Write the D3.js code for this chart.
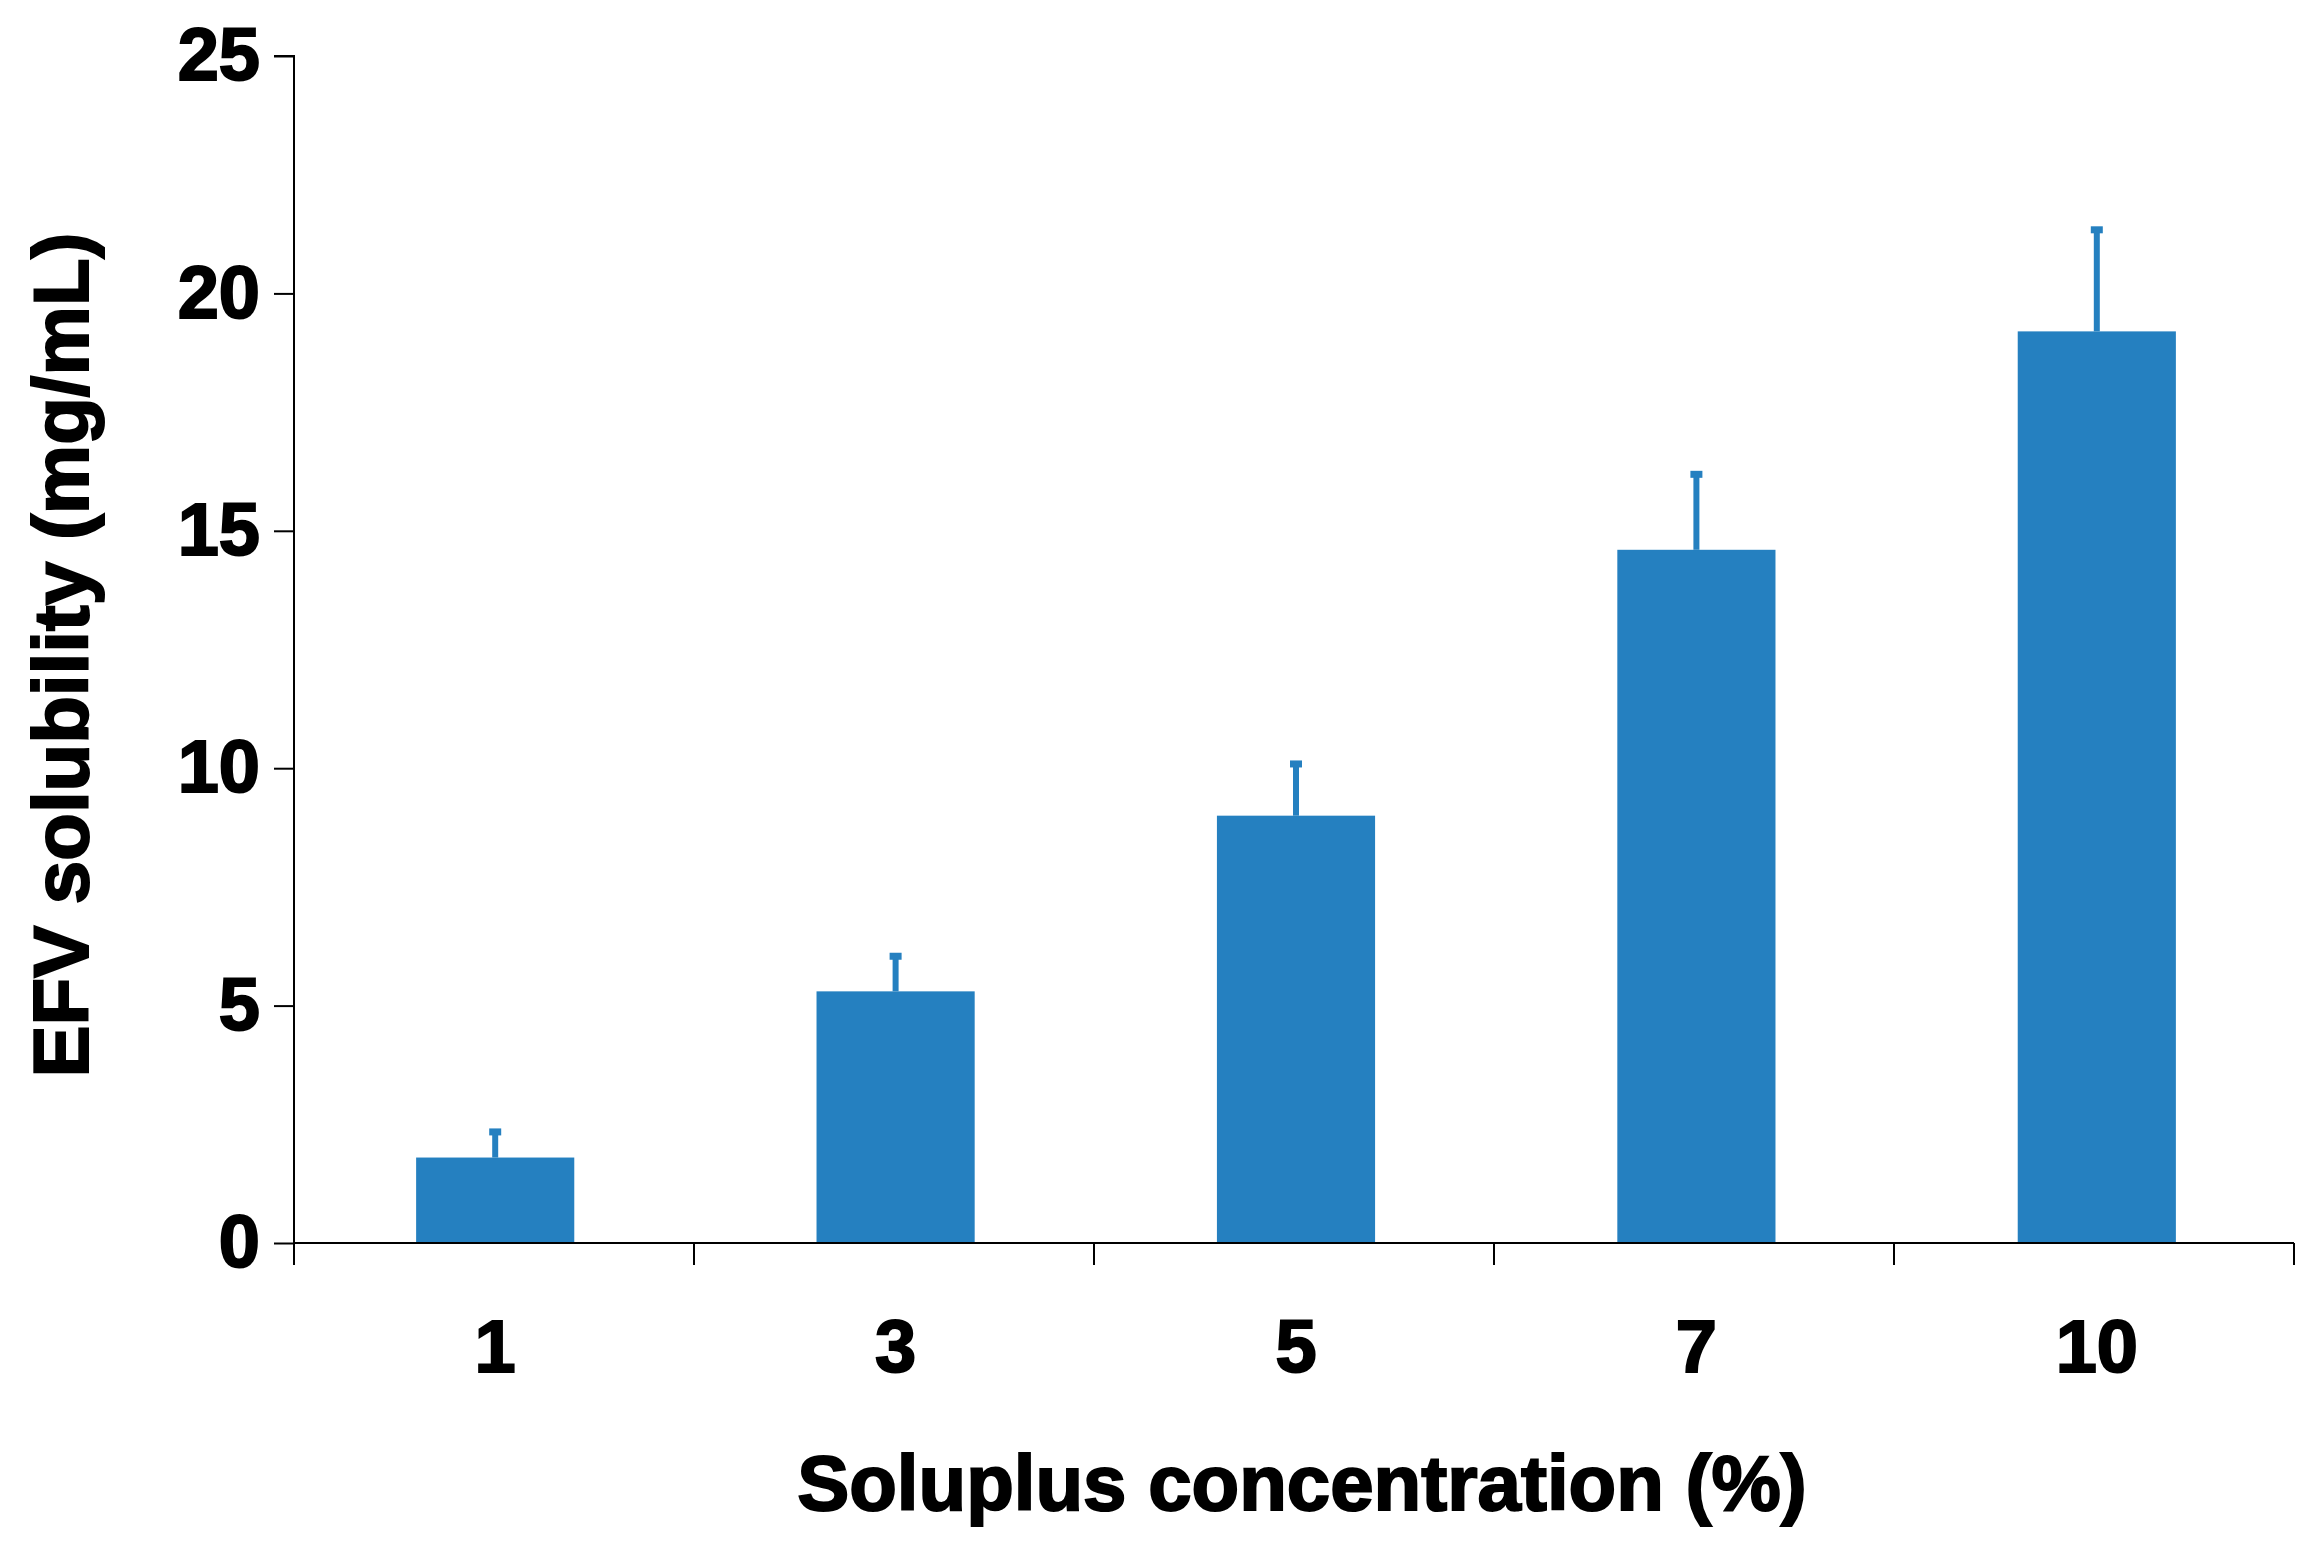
<!DOCTYPE html>
<html><head><meta charset="utf-8">
<script src="https://cdn.jsdelivr.net/npm/d3@7"></script>
<style>body{margin:0;background:#fff}</style></head>
<body><svg id="c" width="2315" height="1562"></svg>
<script>
const categories = ["1","3","5","7","10"];
const values = [1.8, 5.3, 9.0, 14.6, 19.2];
const errors = [0.55, 0.75, 1.1, 1.6, 2.15];
const yTicks = [0,5,10,15,20,25];

const svg = d3.select("#c");
const L=294, R=2294, T=56, B=1243;
const x = d3.scaleBand().domain(categories).range([L,R]).paddingInner(0.605).paddingOuter(0.3);
const y = d3.scaleLinear().domain([0,25]).range([B,T]);
const font = "'Liberation Sans', Arial, sans-serif";

const ya = svg.append("g").attr("transform",`translate(${L},0)`)
  .call(d3.axisLeft(y).tickValues(yTicks).tickSize(20).tickPadding(14));
ya.selectAll("text").attr("font-size",74).attr("font-weight","bold").attr("font-family",font)
  .attr("fill","#000").attr("stroke","#000").attr("stroke-width",2);
ya.select(".domain").attr("d",`M-20,${T}H0V${B}`).attr("stroke","#000").attr("stroke-width",2);
ya.selectAll(".tick line").attr("stroke","#000").attr("stroke-width",2);

const c="#2580c0";
svg.selectAll("rect.b").data(values).join("rect")
  .attr("x",(d,i)=>x(categories[i])+2).attr("width",x.bandwidth())
  .attr("y",d=>y(d)).attr("height",d=>B-y(d)).attr("fill",c);
const cx=(i)=>x(categories[i])+2+x.bandwidth()/2;
svg.selectAll("line.e").data(values).join("line")
  .attr("x1",(d,i)=>cx(i)).attr("x2",(d,i)=>cx(i))
  .attr("y1",d=>y(d)).attr("y2",(d,i)=>y(d+errors[i]))
  .attr("stroke",c).attr("stroke-width",6);
svg.selectAll("rect.cap").data(values).join("rect")
  .attr("x",(d,i)=>cx(i)-6).attr("width",12)
  .attr("y",(d,i)=>y(d+errors[i])-3).attr("height",7).attr("fill",c);

svg.append("line").attr("x1",L).attr("x2",R).attr("y1",B).attr("y2",B).attr("stroke","#000").attr("stroke-width",2);
const bounds=[L].concat(categories.map((c,i)=>L+(i+1)*(R-L)/categories.length));
svg.selectAll("line.xt").data(bounds).join("line")
  .attr("x1",d=>d).attr("x2",d=>d).attr("y1",B).attr("y2",B+22).attr("stroke","#000").attr("stroke-width",2);
svg.selectAll("text.xl").data(categories).join("text")
  .attr("x",d=>x(d)+2+x.bandwidth()/2).attr("y",1372).attr("text-anchor","middle")
  .attr("font-size",74).attr("font-weight","bold").attr("font-family",font)
  .attr("stroke","#000").attr("stroke-width",2).text(d=>d);

svg.append("text").attr("x",1302).attr("y",1510).attr("text-anchor","middle")
  .attr("font-size",78).attr("font-weight","bold").attr("font-family",font)
  .attr("stroke","#000").attr("stroke-width",2).text("Soluplus concentration (%)");
svg.append("text").attr("transform","translate(88,655) rotate(-90)").attr("text-anchor","middle")
  .attr("font-size",78).attr("font-weight","bold").attr("font-family",font)
  .attr("stroke","#000").attr("stroke-width",2).text("EFV solubility (mg/mL)");
</script></body></html>
